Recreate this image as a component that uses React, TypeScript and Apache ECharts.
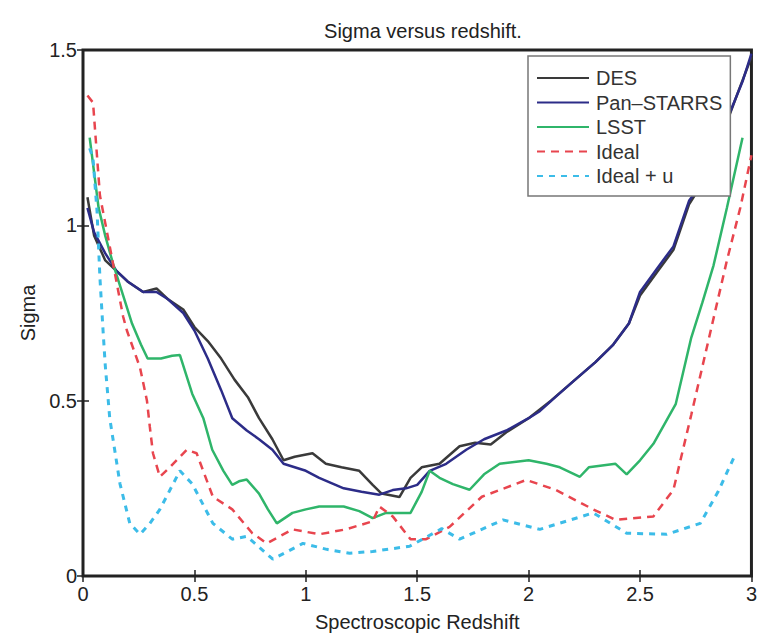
import React, { useEffect, useRef } from "react";
import * as echarts from "echarts";

const titleText = "Sigma versus redshift.";
const xName = "Spectroscopic Redshift";
const yName = "Sigma";
const seriesNames = ["DES", "Pan\u2013STARRS", "LSST", "Ideal", "Ideal + u"];

const desData: number[][] = [
  [0.02, 1.08], [0.05, 0.97], [0.1, 0.9], [0.15, 0.87], [0.2, 0.84], [0.27, 0.81], [0.33, 0.82],
  [0.38, 0.79], [0.45, 0.76], [0.5, 0.71], [0.56, 0.67], [0.62, 0.62], [0.68, 0.56], [0.74, 0.51],
  [0.79, 0.45], [0.85, 0.39], [0.9, 0.33], [0.95, 0.34], [1.03, 0.35], [1.09, 0.32], [1.16, 0.31],
  [1.24, 0.3], [1.3, 0.26], [1.34, 0.235], [1.38, 0.23], [1.42, 0.225], [1.47, 0.28], [1.52, 0.31],
  [1.6, 0.32], [1.69, 0.37], [1.76, 0.38], [1.83, 0.375], [1.9, 0.41], [2.0, 0.45], [2.1, 0.5],
  [2.2, 0.555], [2.3, 0.61], [2.38, 0.66], [2.45, 0.72], [2.5, 0.8], [2.58, 0.87], [2.65, 0.93],
  [2.72, 1.06], [2.79, 1.13], [2.87, 1.26], [2.94, 1.38], [3.0, 1.48],
];

const panData: number[][] = [
  [0.02, 1.05], [0.05, 0.98], [0.1, 0.92], [0.15, 0.87], [0.2, 0.84], [0.27, 0.81], [0.33, 0.81],
  [0.38, 0.79], [0.45, 0.75], [0.5, 0.7], [0.56, 0.62], [0.62, 0.53], [0.67, 0.45], [0.735, 0.415],
  [0.79, 0.39], [0.85, 0.36], [0.9, 0.32], [1.0, 0.3], [1.06, 0.28], [1.17, 0.25], [1.25, 0.24],
  [1.33, 0.232], [1.39, 0.245], [1.45, 0.25], [1.5, 0.26], [1.556, 0.3], [1.63, 0.32], [1.72, 0.36],
  [1.8, 0.39], [1.9, 0.415], [2.0, 0.45], [2.05, 0.47], [2.12, 0.51], [2.2, 0.555], [2.3, 0.61],
  [2.38, 0.66], [2.45, 0.72], [2.5, 0.81], [2.58, 0.88], [2.65, 0.94], [2.72, 1.07], [2.79, 1.13],
  [2.87, 1.27], [2.96, 1.41], [3.0, 1.49],
];

const lsstData: number[][] = [
  [0.03, 1.25], [0.07, 1.05], [0.1, 0.97], [0.135, 0.89], [0.18, 0.8], [0.22, 0.72], [0.26, 0.66],
  [0.29, 0.62], [0.35, 0.62], [0.4, 0.628], [0.435, 0.63], [0.49, 0.52], [0.54, 0.45], [0.58, 0.36],
  [0.63, 0.3], [0.67, 0.26], [0.7, 0.27], [0.735, 0.275], [0.79, 0.235], [0.83, 0.19], [0.87, 0.15],
  [0.94, 0.18], [1.0, 0.19], [1.06, 0.198], [1.17, 0.198], [1.24, 0.185], [1.3, 0.165], [1.36, 0.18],
  [1.47, 0.18], [1.52, 0.24], [1.556, 0.3], [1.6, 0.28], [1.66, 0.262], [1.735, 0.246], [1.8, 0.29],
  [1.87, 0.32], [2.0, 0.33], [2.08, 0.32], [2.14, 0.31], [2.23, 0.283], [2.27, 0.31], [2.39, 0.32],
  [2.44, 0.29], [2.5, 0.33], [2.56, 0.377], [2.66, 0.49], [2.73, 0.68], [2.78, 0.78], [2.83, 0.886],
  [2.89, 1.05], [2.96, 1.25],
];

const idealData: number[][] = [
  [0.02, 1.37], [0.045, 1.35], [0.076, 1.085], [0.12, 0.94], [0.18, 0.74], [0.197, 0.7], [0.256, 0.594],
  [0.287, 0.5], [0.3, 0.425], [0.314, 0.35], [0.345, 0.283], [0.39, 0.31], [0.466, 0.36], [0.51, 0.35],
  [0.583, 0.226], [0.67, 0.19], [0.76, 0.122], [0.825, 0.093], [0.94, 0.133], [1.06, 0.119],
  [1.18, 0.133], [1.3, 0.156], [1.33, 0.198], [1.39, 0.17], [1.47, 0.105], [1.54, 0.105],
  [1.645, 0.14], [1.79, 0.226], [1.99, 0.274], [2.12, 0.246], [2.29, 0.19], [2.39, 0.16],
  [2.56, 0.17], [2.65, 0.246], [2.73, 0.46], [2.81, 0.68], [2.89, 0.9], [2.95, 1.05], [3.0, 1.2],
];

const idealUData: number[][] = [
  [0.03, 1.22], [0.045, 1.19], [0.063, 1.04], [0.076, 0.85], [0.09, 0.7], [0.1, 0.6], [0.12, 0.45],
  [0.166, 0.263], [0.21, 0.15], [0.256, 0.119], [0.3, 0.15], [0.345, 0.19], [0.435, 0.3],
  [0.49, 0.263], [0.583, 0.15], [0.67, 0.105], [0.735, 0.113], [0.852, 0.048], [0.987, 0.093],
  [1.094, 0.076], [1.197, 0.065], [1.3, 0.07], [1.466, 0.085], [1.61, 0.135], [1.69, 0.105],
  [1.885, 0.16], [2.05, 0.133], [2.29, 0.18], [2.44, 0.122], [2.62, 0.119], [2.77, 0.15],
  [2.85, 0.24], [2.93, 0.35],
];

const FONT = "Liberation Sans, Arial, sans-serif";

export default function App() {
  const ref = useRef<HTMLDivElement>(null);
  useEffect(() => {
    if (!ref.current) return;
    const chart = echarts.init(ref.current, undefined, { renderer: "svg" });
    const axisCommon = {
      min: 0,
      interval: 0.5,
      splitLine: { show: false },
      axisLine: { show: false },
      axisTick: { show: true, inside: true, length: 6, lineStyle: { color: "#222", width: 1.5 } },
    };
    const mk = (name: string, data: number[][], color: string, type: any, width: number) => ({
      name,
      type: "line",
      data,
      showSymbol: false,
      symbol: "none",
      lineStyle: { color, width, type },
      itemStyle: { color },
      z: 3,
    });
    chart.setOption({
      animation: false,
      backgroundColor: "#fff",
      title: {
        text: titleText,
        left: 418,
        textAlign: "center",
        top: 16,
        textStyle: { fontFamily: FONT, fontSize: 20, fontWeight: "normal", color: "#222" },
      },
      legend: {
        orient: "vertical",
        left: 528,
        top: 56,
        padding: [12, 8, 10, 8],
        itemWidth: 52,
        itemHeight: 12,
        itemGap: 4.5,
        backgroundColor: "#fff",
        borderColor: "#777",
        borderWidth: 1.5,
        borderRadius: 0,
        itemStyle: { opacity: 0, borderWidth: 0 },
        textStyle: { fontFamily: FONT, fontSize: 20, color: "#333", lineHeight: 20, padding: [0, 0, 0, 2] },
        data: seriesNames,
      },
      grid: {
        left: 83,
        right: 8,
        top: 50,
        bottom: 57,
        show: true,
        borderColor: "#222",
        borderWidth: 3,
        backgroundColor: "#fff",
      },
      xAxis: [
        {
          ...axisCommon,
          type: "value",
          max: 3,
          position: "bottom",
          name: xName,
          nameLocation: "middle",
          nameGap: 36,
          nameTextStyle: { fontFamily: FONT, fontSize: 20, color: "#222" },
          axisLabel: { fontFamily: FONT, fontSize: 20, color: "#222", margin: 8 },
        },
        {
          ...axisCommon,
          type: "value",
          max: 3,
          position: "top",
          axisLabel: { show: false },
        },
      ],
      yAxis: [
        {
          ...axisCommon,
          type: "value",
          max: 1.5,
          position: "left",
          name: yName,
          nameLocation: "middle",
          nameGap: 44,
          nameTextStyle: { fontFamily: FONT, fontSize: 20, color: "#222" },
          axisLabel: { fontFamily: FONT, fontSize: 20, color: "#222", margin: 6 },
        },
        {
          ...axisCommon,
          type: "value",
          max: 1.5,
          position: "right",
          axisLabel: { show: false },
        },
      ],
      series: [
        mk(seriesNames[0], desData, "#3a3a3a", "solid", 2.5),
        mk(seriesNames[1], panData, "#2c2c88", "solid", 2.5),
        mk(seriesNames[2], lsstData, "#2fb56a", "solid", 2.5),
        mk(seriesNames[3], idealData, "#e8454e", [8, 6], 2.5),
        mk(seriesNames[4], idealUData, "#3cbce8", [6, 6], 3),
      ],
    });
    return () => chart.dispose();
  }, []);
  return (
    <div
      ref={ref}
      style={{ position: "fixed", left: 0, top: 0, width: 760, height: 637 }}
    />
  );
}
